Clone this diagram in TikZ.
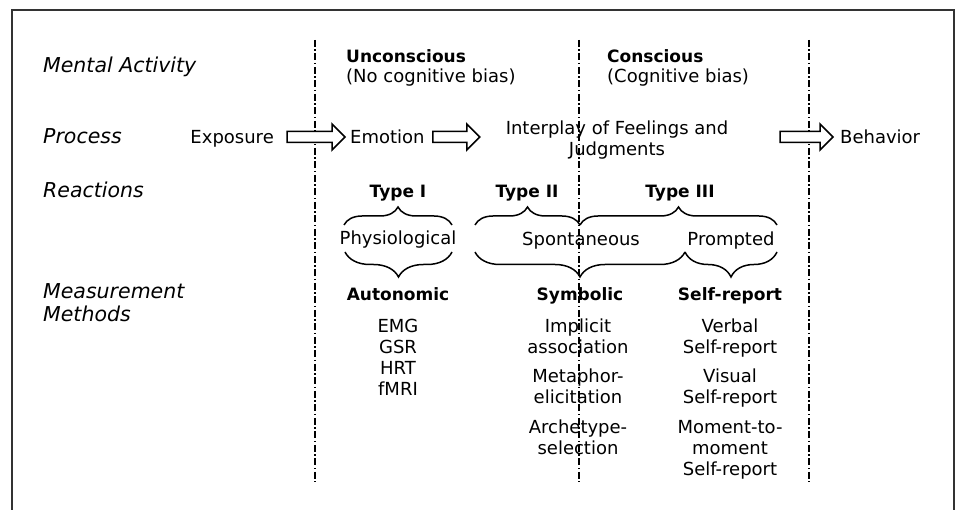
\documentclass[tikz,border=0pt]{standalone}
\usepackage{fontspec}
\setmainfont{DejaVu Sans}
\usetikzlibrary{calc,decorations.pathreplacing}
\newcommand\blockarrow[2]{%
  \draw[blk] let \p1=#1, \p2=#2 in
    (\x1,\y1+5.5pt) -- (\x2-13pt,\y1+5.5pt) -- (\x2-13pt,\y1+13pt) -- (\x2,\y1)
    -- (\x2-13pt,\y1-13pt) -- (\x2-13pt,\y1-5.5pt) -- (\x1,\y1-5.5pt) -- cycle;}
\begin{document}
\begin{tikzpicture}[x=1pt,y=-1pt,
  reg/.style={font=\fontsize{18}{21}\selectfont, inner sep=0pt},
  lab/.style={font=\fontsize{20.5}{23}\selectfont\itshape, inner sep=0pt, anchor=base west},
  hdr/.style={font=\fontsize{17}{20}\selectfont\bfseries, inner sep=0pt},
  divider/.style={line width=1.5pt, dash pattern=on 7pt off 2.5pt on 1.5pt off 2.5pt},
  brc/.style={line width=1.5pt, decorate, decoration={brace, amplitude=#1}},
  blk/.style={line width=1.5pt, fill=white, line join=miter},
  frm/.style={line width=1.3pt, draw=black!80}
]
\useasboundingbox (0,0) rectangle (959,510);
% frame
\coordinate (fbl) at (12,510);
\coordinate (ftl) at (12,10);
\coordinate (ftr) at (954,10);
\coordinate (fbr) at (954,510);
\draw[frm] (fbl) -- (ftl) -- (ftr) -- (fbr);
% dividers
\foreach \n/\x in {a/315,b/579,c/809}{
  \coordinate (\n top) at (\x,40);
  \coordinate (\n bot) at (\x,482);
  \draw[divider] (\n top) -- (\n bot);
}
% row labels
\node[lab] (mental) at (43,73) {Mental Activity};
\node[lab] (process) at (43,144) {Process};
\node[lab] (reactions) at (43,198) {Reactions};
\node[lab] (meas1) at (43,299) {Measurement};
\node[lab] (meas2) at (43,322) {Methods};
% mental activity
\node[hdr, anchor=base west] (uncon) at (346,63) {Unconscious};
\node[reg, anchor=base west] (nobias) at (346,83) {(No cognitive bias)};
\node[hdr, anchor=base west] (con) at (607,63) {Conscious};
\node[reg, anchor=base west] (bias) at (607,83) {(Cognitive bias)};
% process
\node[reg, anchor=base east] (expo) at (274,144) {Exposure};
\node[reg, anchor=base west] (emo) at (350,144) {Emotion};
\node[reg, anchor=base] (inter1) at (617,135) {Interplay of Feelings and};
\node[reg, anchor=base] (inter2) at (617,156) {Judgments};
\node[reg, anchor=base west] (beh) at (840,144) {Behavior};
\blockarrow{($(expo.base east)+(13,-7)$)}{($(emo.base west)+(-5,-7)$)}
\blockarrow{($(emo.base east)+(8,-7)$)}{($(emo.base east)+(55,-7)$)}
\blockarrow{($(beh.base west)+(-60,-7)$)}{($(beh.base west)+(-7,-7)$)}
% reactions
\node[hdr, anchor=base] (t1) at (398,198) {Type I};
\node[hdr, anchor=base] (t2) at (527,198) {Type II};
\node[hdr, anchor=base] (t3) at (680,198) {Type III};
\node[reg, anchor=base] (phys) at (398,245) {Physiological};
\node[reg, anchor=base] (spon) at (581,246) {Spontaneous};
\node[reg, anchor=base] (prom) at (731,246) {Prompted};
\draw[brc=18pt] (344,225) -- (452,225);
\draw[brc=18pt] (475,225) -- (580,225);
\draw[brc=18pt] (580,225) -- (777,225);
\draw[brc=25pt] (452,252) -- (345,252);
\draw[brc=25pt] (685,252) -- (475,252);
\draw[brc=25pt] (777,252) -- (685,252);
% measurement methods
\node[hdr, anchor=base] (auto) at (398,301) {Autonomic};
\node[hdr, anchor=base] (symb) at (580,301) {Symbolic};
\node[hdr, anchor=base] (selfr) at (730,301) {Self-report};
\foreach \t/\y [count=\i] in {EMG/333,GSR/354,HRT/375,fMRI/396}
  \node[reg, anchor=base] (am\i) at (398,\y) {\t};
\foreach \t/\y [count=\i] in {Implicit/333,association/354,Metaphor-/383,elicitation/404,Archetype-/434,selection/455}
  \node[reg, anchor=base] (sm\i) at (578,\y) {\t};
\foreach \t/\y [count=\i] in {Verbal/333,Self-report/354,Visual/383,Self-report/404,Moment-to-/434,moment/455,Self-report/476}
  \node[reg, anchor=base] (rm\i) at (730,\y) {\t};
\end{tikzpicture}
\end{document}
